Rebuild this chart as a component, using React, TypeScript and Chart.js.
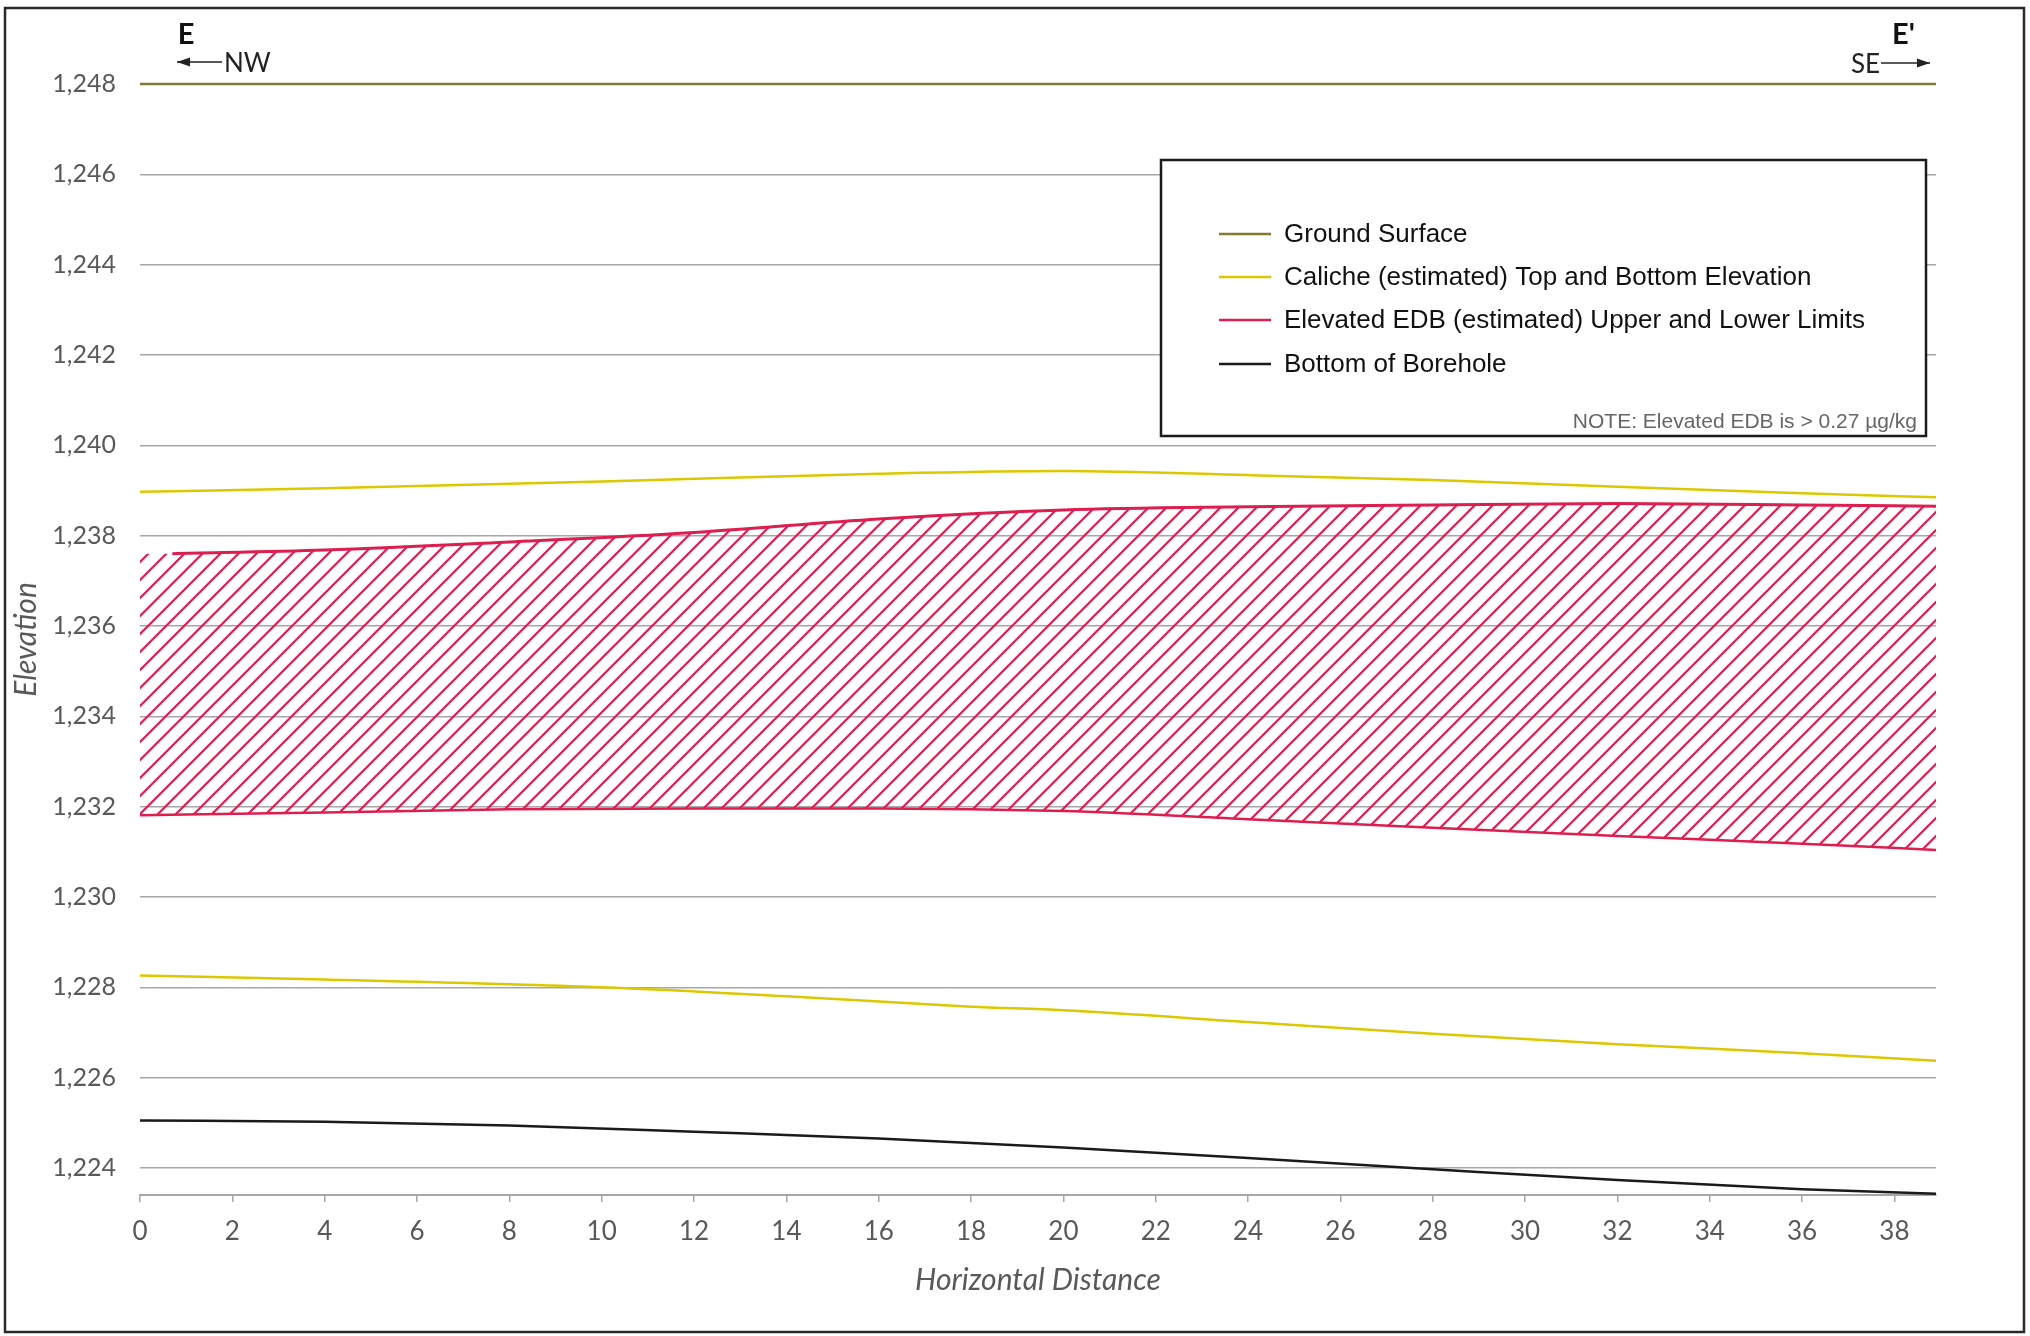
import React, { useEffect, useRef } from "react";
import { Chart, registerables } from "chart.js";

Chart.register(...registerables);

// ---- axis ticks ----
const xTicks = [0, 2, 4, 6, 8, 10, 12, 14, 16, 18, 20, 22, 24, 26, 28, 30, 32, 34, 36, 38];
const yTicks = [1224, 1226, 1228, 1230, 1232, 1234, 1236, 1238, 1240, 1242, 1244, 1246, 1248];
const X_MIN = 0;
const X_MAX = 38.9;
const Y_MIN = 1223.4;
const Y_MAX = 1248;

// ---- series ----
const groundDist = [0, 38.9];
const groundElev = [1248, 1248];

const calicheTopDist = [0, 4, 10, 16, 20, 24, 28, 32, 36, 38.9];
const calicheTopElev = [1238.97, 1239.05, 1239.2, 1239.37, 1239.43, 1239.34, 1239.23, 1239.08, 1238.94, 1238.85];

const calicheBotDist = [0, 4, 10, 14, 18, 20, 24, 28, 32, 36, 38.9];
const calicheBotElev = [1228.26, 1228.17, 1228.0, 1227.8, 1227.57, 1227.49, 1227.23, 1226.97, 1226.74, 1226.54, 1226.37];

const edbUpperDist = [0.7, 4, 8, 12, 16, 20, 24, 28, 32, 36, 38.9];
const edbUpperElev = [1237.6, 1237.68, 1237.86, 1238.07, 1238.37, 1238.57, 1238.64, 1238.68, 1238.71, 1238.68, 1238.65];
const edbHatchStartDist = 0;

const edbLowerDist = [0, 4, 8, 12, 16, 20, 24, 28, 32, 36, 38.9];
const edbLowerElev = [1231.81, 1231.87, 1231.94, 1231.96, 1231.96, 1231.9, 1231.72, 1231.53, 1231.35, 1231.18, 1231.04];

const boreDist = [0, 4, 8, 12, 16, 20, 24, 28, 32, 36, 38.9];
const boreElev = [1225.05, 1225.02, 1224.94, 1224.8, 1224.65, 1224.45, 1224.22, 1223.97, 1223.73, 1223.53, 1223.43];

// ---- legend ----
const legendLabels = [
  "Ground Surface",
  "Caliche (estimated) Top and Bottom Elevation",
  "Elevated EDB (estimated) Upper and Lower Limits",
  "Bottom of Borehole",
];
const GROUND_COLOR = "#857b30";
const CALICHE_COLOR = "#dcc800";
const EDB_COLOR = "#dc1e50";
const BORE_COLOR = "#1a1a1a";
const legendColors = [GROUND_COLOR, CALICHE_COLOR, EDB_COLOR, BORE_COLOR];
const noteText = "NOTE: Elevated EDB is > 0.27 \u00b5g/kg";

const GRID_COLOR = "#a6a6a6";
const TEXT_COLOR = "#595959";

const pts = (xs: number[], ys: number[]) => xs.map((x, i) => ({ x, y: ys[i] }));

function makeHatch(ctx: CanvasRenderingContext2D, color: string) {
  const s = 18;
  const c = document.createElement("canvas");
  c.width = s;
  c.height = s;
  const g = c.getContext("2d")!;
  g.strokeStyle = color;
  g.lineWidth = 2.2;
  g.lineCap = "square";
  g.beginPath();
  g.moveTo(0, s);
  g.lineTo(s, 0);
  g.moveTo(-2, 2);
  g.lineTo(2, -2);
  g.moveTo(s - 2, s + 2);
  g.lineTo(s + 2, s - 2);
  g.stroke();
  return ctx.createPattern(c, "repeat")!;
}

const decorPlugin = {
  id: "decor",
  afterDraw(chart: any) {
    const ctx: CanvasRenderingContext2D = chart.ctx;
    ctx.save();
    // outer frame
    ctx.strokeStyle = "#2a2a2a";
    ctx.lineWidth = 2.5;
    ctx.strokeRect(5, 8, 2019, 1324);

    // section labels
    ctx.fillStyle = "#111";
    ctx.textBaseline = "alphabetic";
    ctx.font = "bold 29px Lato";
    ctx.textAlign = "center";
    ctx.fillText("E", 186, 44);
    ctx.textAlign = "left";
    ctx.fillText("E'", 1892, 44);

    ctx.font = "26px Lato";
    ctx.fillStyle = "#222";
    ctx.textAlign = "left";
    ctx.fillText("NW", 224, 72);
    ctx.textAlign = "right";
    ctx.fillText("SE", 1880, 73);

    const arrow = (x1: number, x2: number, y: number, dir: number) => {
      ctx.strokeStyle = "#222";
      ctx.fillStyle = "#222";
      ctx.lineWidth = 1.5;
      ctx.beginPath();
      ctx.moveTo(x1, y);
      ctx.lineTo(x2, y);
      ctx.stroke();
      const tip = dir < 0 ? x1 : x2;
      ctx.beginPath();
      ctx.moveTo(tip, y);
      ctx.lineTo(tip - dir * 13, y - 4.5);
      ctx.lineTo(tip - dir * 13, y + 4.5);
      ctx.closePath();
      ctx.fill();
    };
    arrow(177, 222, 62, -1);
    arrow(1881, 1930, 63, 1);

    // legend box
    const bx = 1161, by = 160, bw = 765, bh = 276;
    ctx.fillStyle = "#ffffff";
    ctx.fillRect(bx, by, bw, bh);
    ctx.strokeStyle = "#1a1a1a";
    ctx.lineWidth = 2.5;
    ctx.strokeRect(bx, by, bw, bh);

    const itemY = [234, 277, 320, 364];
    ctx.font = "26px 'Liberation Sans'";
    ctx.textBaseline = "middle";
    ctx.textAlign = "left";
    legendLabels.forEach((lbl, i) => {
      ctx.strokeStyle = legendColors[i];
      ctx.lineWidth = 2.5;
      ctx.beginPath();
      ctx.moveTo(1219, itemY[i]);
      ctx.lineTo(1271, itemY[i]);
      ctx.stroke();
      ctx.fillStyle = "#111";
      ctx.fillText(lbl, 1284, itemY[i] + 1);
    });
    ctx.font = "21px 'Liberation Sans'";
    ctx.fillStyle = "#666";
    ctx.textAlign = "right";
    ctx.fillText(noteText, 1917, 422);
    ctx.restore();
  },
};

export default function App() {
  const ref = useRef<HTMLCanvasElement | null>(null);

  useEffect(() => {
    const canvas = ref.current!;
    const ctx = canvas.getContext("2d")!;
    const hatch = makeHatch(ctx, EDB_COLOR);

    const line = (data: any[], color: string, width: number, extra: any = {}) => ({
      data,
      borderColor: color,
      borderWidth: width,
      pointRadius: 0,
      fill: false,
      cubicInterpolationMode: "monotone",
      clip: false,
      ...extra,
    });

    const chart = new Chart(canvas, {
      type: "line",
      data: {
        datasets: [
          line(pts(groundDist, groundElev), GROUND_COLOR, 2.5),
          line(pts(calicheTopDist, calicheTopElev), CALICHE_COLOR, 2.5),
          line(pts(calicheBotDist, calicheBotElev), CALICHE_COLOR, 2.5),
          line(
            [{ x: edbHatchStartDist, y: edbUpperElev[0] }, ...pts(edbUpperDist, edbUpperElev)],
            "rgba(0,0,0,0)",
            0,
            { fill: 5, backgroundColor: hatch }
          ),
          line(pts(edbUpperDist, edbUpperElev), EDB_COLOR, 3),
          line(pts(edbLowerDist, edbLowerElev), EDB_COLOR, 2.5),
          line(pts(boreDist, boreElev), BORE_COLOR, 2.5),
        ],
      },
      options: {
        animation: false,
        responsive: false,
        devicePixelRatio: 1,
        layout: { padding: { left: 0, right: 94, top: 84, bottom: 0 } },
        plugins: {
          legend: { display: false },
          tooltip: { enabled: false },
        },
        scales: {
          x: {
            type: "linear",
            min: X_MIN,
            max: X_MAX,
            afterBuildTicks: (s: any) => {
              s.ticks = xTicks.map((v) => ({ value: v }));
            },
            afterFit: (s: any) => {
              s.height = 141;
            },
            grid: {
              display: true,
              drawOnChartArea: false,
              drawTicks: true,
              tickLength: 7,
              color: GRID_COLOR,
              lineWidth: 1.5,
            },
            border: { display: true, color: GRID_COLOR, width: 2 },
            ticks: {
              padding: 14,
              maxRotation: 0,
              autoSkip: false,
              color: TEXT_COLOR,
              font: { family: "Lato", size: 26 },
              callback: (v: any) => String(v),
            },
            title: {
              display: true,
              text: "Horizontal Distance",
              color: TEXT_COLOR,
              font: { family: "Lato", size: 30, style: "italic" },
              padding: { top: 0, bottom: 38 },
            },
          },
          y: {
            type: "linear",
            min: Y_MIN,
            max: Y_MAX,
            afterBuildTicks: (s: any) => {
              s.ticks = yTicks.map((v) => ({ value: v }));
            },
            afterFit: (s: any) => {
              s.width = 140;
            },
            grid: {
              display: true,
              drawTicks: false,
              color: GRID_COLOR,
              lineWidth: 1.5,
            },
            border: { display: false },
            ticks: {
              padding: 24,
              autoSkip: false,
              color: TEXT_COLOR,
              font: { family: "Lato", size: 25 },
              callback: (v: any) => Number(v).toLocaleString("en-US"),
            },
            title: {
              display: true,
              text: "Elevation",
              color: TEXT_COLOR,
              font: { family: "Lato", size: 30, style: "italic" },
              padding: { top: 8, bottom: 0 },
            },
          },
        },
      },
      plugins: [decorPlugin],
    } as any);

    return () => chart.destroy();
  }, []);

  return (
    <div style={{ position: "absolute", left: 0, top: 0, width: 2030, height: 1336, background: "#fff" }}>
      <canvas ref={ref} width={2030} height={1336} style={{ display: "block", width: 2030, height: 1336 }} />
    </div>
  );
}
